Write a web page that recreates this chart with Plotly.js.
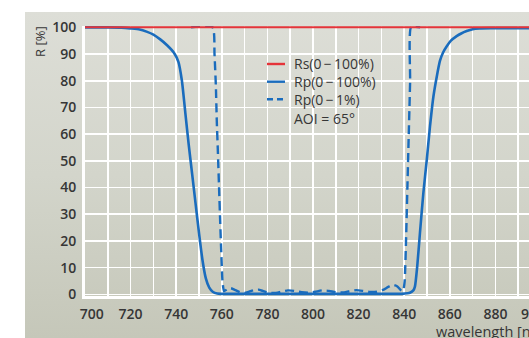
<!DOCTYPE html>
<html>
<head>
<meta charset="utf-8">
<script src="https://cdn.plot.ly/plotly-3.0.1.min.js"></script>
<style>
  html, body { margin: 0; padding: 0; width: 529px; height: 338px; overflow: hidden; background: #ffffff; }
  #panel { position: absolute; left: 25px; top: 12px; width: 504px; height: 326px;
           background: linear-gradient(to bottom, #dddeD7 0%, #d3d5cb 50%, #c5c7b9 100%); }
  #chart { position: absolute; left: 0; top: 0; }
</style>
</head>
<body>
<div id="panel"></div>
<div id="chart"></div>
<script>
// ---- data ----
const xTickLabels = ['700', '720', '740', '760', '780', '800', '820', '840', '860', '880', '900'];
const xTickPos    = [703, 720, 740, 760, 780, 800, 820, 840, 860, 880, 896.5];
const yTicks = [0, 10, 20, 30, 40, 50, 60, 70, 80, 90, 100];

const rsX = [700, 900];
const rsY = [100, 100];

const rpX = [700, 710, 716, 720, 724, 727, 730, 733, 736, 739, 741, 742.5, 744, 745.5, 747, 748.5, 750, 751.5, 753, 754.5, 756, 758, 760,
             780, 800, 820, 838, 840, 841.5, 842.5, 844, 844.7, 845.7, 846.9, 848.4, 849.9, 851.3, 852.8, 854.3, 855.7, 857, 858.6,
             860.5, 863, 865, 867.4, 870, 873, 878, 885, 900];
const rpY = [100, 100, 99.9, 99.6, 99.2, 98.4, 97.3, 95.5, 93.3, 90.5, 87, 80, 68, 56, 45, 34, 23, 13, 6, 2.5, 1.0, 0.3, 0.2,
             0.2, 0.2, 0.2, 0.2, 0.3, 0.4, 0.6, 1.5, 2.9, 10.4, 22.9, 37.9, 50.4, 62.8, 74, 81.6, 87.5, 90.5, 92.8,
             95, 96.7, 97.7, 98.6, 99.3, 99.6, 99.7, 99.7, 99.7];

const rp1X = [746.5, 756.0, 756.8, 757.4, 757.8, 758.3, 758.8, 759.3, 759.8, 760.3, 761, 762.5, 764, 766, 768, 770, 772, 774, 776, 778,
              780, 783, 786, 789, 792, 795, 798, 801, 804, 807, 810, 813, 816, 819, 822, 825, 828, 831, 833, 835, 837, 838.5,
              839.5, 840.2, 840.8, 841.4, 842, 842.6, 843, 847];
const rp1Y = [100, 100, 90, 78, 65, 53, 40, 27, 15, 5, 1.2, 2.0, 2.3, 1.6, 0.8, 0.5, 1.0, 1.6, 1.8, 1.3,
              0.7, 0.5, 1.0, 1.5, 1.3, 0.8, 0.6, 1.0, 1.5, 1.3, 0.8, 0.7, 1.2, 1.6, 1.3, 0.9, 1.0, 1.8, 2.8, 3.6, 3.0, 1.6,
              1.2, 5, 20, 40, 60, 80, 100, 100];

const seriesNames = ['Rs(0\u2009\u2212\u2009100%)', 'Rp(0\u2009\u2212\u2009100%)', 'Rp(0\u2009\u2212\u20091%)'];
const noteText = 'AOI = 65\u00b0';
const xTitle = 'wavelength [nm]';
const yTitle = 'R [%]';

// ---- styling ----
const RED = '#e5343a';
const BLUE = '#1a6cbd';
const TXT = '#363636';
const FONT = 'Open Sans, Noto Sans, sans-serif';

const W = 560, H = 338;
const M = { l: 85, r: 19, t: 26, b: 42 };
const pw = W - M.l - M.r, ph = H - M.t - M.b;
const px2x = p => (p - M.l) / pw;
const px2y = p => (H - M.b - p) / ph;

const traces = [
  { x: rpX, y: rpY, name: seriesNames[1], mode: 'lines', line: { color: BLUE, width: 2.6, shape: 'spline', smoothing: 0.6 } },
  { x: rp1X, y: rp1Y, name: seriesNames[2], mode: 'lines', line: { color: BLUE, width: 2.4, dash: '9px,5px', shape: 'spline', smoothing: 0.5 } },
  { x: rsX, y: rsY, name: seriesNames[0], mode: 'lines', line: { color: RED, width: 2 } }
];

const legRows = [64, 81.7, 99.3];
const legDash = ['solid', 'solid', '6px,4px'];
const legColor = [RED, BLUE, BLUE];
const shapes = legRows.map((py, i) => ({
  type: 'line', xref: 'paper', yref: 'paper',
  x0: px2x(267), x1: px2x(285), y0: px2y(py), y1: px2y(py),
  line: { color: legColor[i], width: 2.4, dash: legDash[i] }
}));
const legFont = { family: FONT, size: 14, color: TXT, weight: 500 };
const annotations = legRows.map((py, i) => ({
  xref: 'paper', yref: 'paper', x: px2x(292), y: px2y(py), xanchor: 'left', yanchor: 'middle',
  text: seriesNames[i], showarrow: false, font: legFont
}));
annotations.push({
  xref: 'paper', yref: 'paper', x: px2x(292), y: px2y(118), xanchor: 'left', yanchor: 'middle',
  text: noteText, showarrow: false, font: legFont
});
annotations.push({
  xref: 'paper', yref: 'paper', x: px2x(40), y: px2y(42), xanchor: 'center', yanchor: 'middle',
  text: yTitle, textangle: -90, showarrow: false, font: { family: FONT, size: 13, color: TXT, weight: 500 }
});
annotations.push({
  xref: 'paper', yref: 'paper', x: px2x(434), y: px2y(331), xanchor: 'left', yanchor: 'middle',
  text: xTitle, showarrow: false, font: { family: FONT, size: 14.5, color: TXT, weight: 500 }
});

const tickFont = { family: FONT, size: 14, color: TXT, weight: 600 };
const layout = {
  width: W, height: H,
  margin: M,
  paper_bgcolor: 'rgba(0,0,0,0)',
  plot_bgcolor: 'rgba(0,0,0,0)',
  showlegend: false,
  font: { family: FONT, size: 13, color: TXT },
  xaxis: {
    range: [700, 900],
    tickvals: xTickPos, ticktext: xTickLabels,
    showgrid: false,
    minor: { dtick: 10, tick0: 700, showgrid: true, gridcolor: '#ffffff', gridwidth: 1.6, ticks: '' },
    showline: true, linecolor: '#ffffff', linewidth: 3,
    zeroline: false, ticks: '', fixedrange: true, ticklabelstandoff: 3,
    tickfont: tickFont
  },
  yaxis: {
    range: [-0.6, 100.5], tickvals: yTicks, ticktext: yTicks.map(String),
    showgrid: true, gridcolor: '#ffffff', gridwidth: 1.6,
    showline: true, linecolor: '#ffffff', linewidth: 3,
    zeroline: false, ticks: '', fixedrange: true, ticklabelstandoff: 3,
    tickfont: tickFont
  },
  shapes: shapes,
  annotations: annotations
};

Plotly.newPlot('chart', traces, layout, { staticPlot: true, displayModeBar: false });
</script>
</body>
</html>
